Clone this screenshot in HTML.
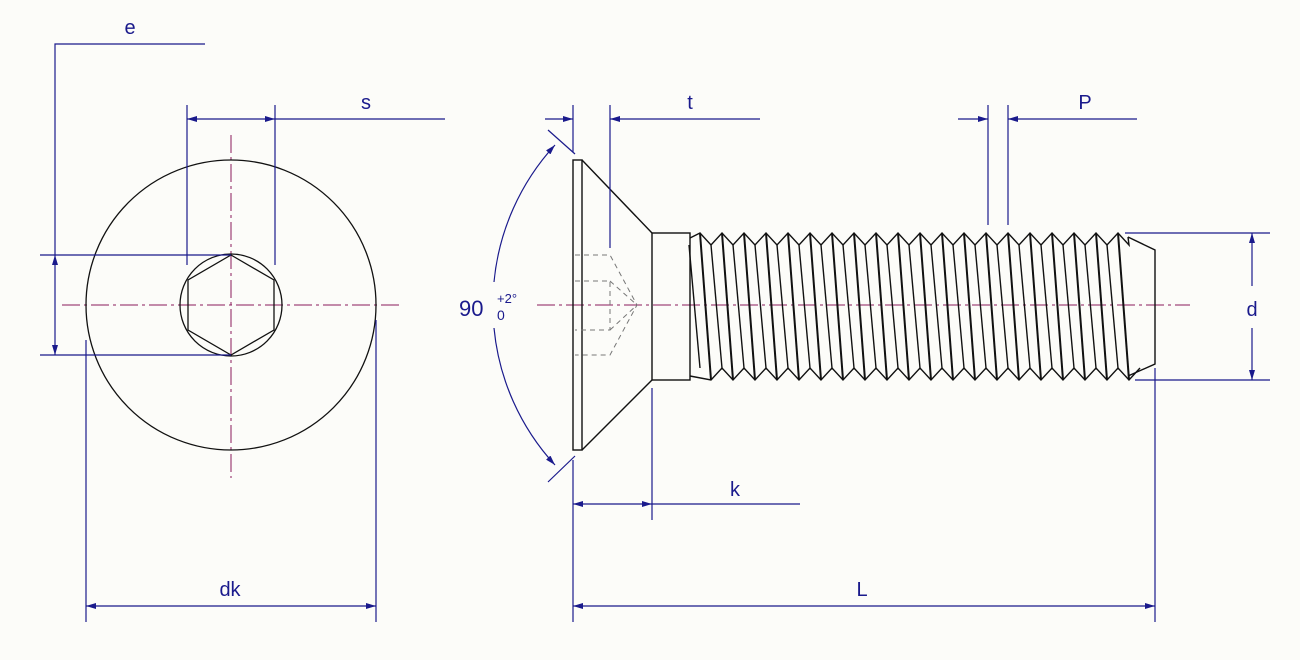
<!DOCTYPE html>
<html><head><meta charset="utf-8"><style>
html,body{margin:0;padding:0;background:#fcfcf9;}
svg{display:block}
text{font-family:"Liberation Sans",sans-serif;fill:#1a1a8c}
</style></head><body>
<svg id="s" width="1300" height="660" viewBox="0 0 1300 660" xmlns="http://www.w3.org/2000/svg">
<defs>
<marker id="a" viewBox="0 0 10 6" refX="10" refY="3" markerWidth="10" markerHeight="6" orient="auto-start-reverse" markerUnits="userSpaceOnUse"><path d="M0,0 L10,3 L0,6z" fill="#1a1a8c"/></marker>
</defs>
<g stroke="#8a1a5a" stroke-width="1" stroke-dasharray="18,4,3,4" fill="none">
<line x1="62" y1="305" x2="402" y2="305"/>
<line x1="231" y1="135" x2="231" y2="478"/>
<line x1="537" y1="305" x2="1190" y2="305"/>
</g>
<g stroke="#111" stroke-width="1.3" fill="none">
<circle cx="231" cy="305" r="145"/>
<circle cx="231" cy="305" r="51"/>
<polygon points="231,255 274,280 274,330 231,355 188,330 188,280"/>
</g>
<g stroke="#1a1a8c" stroke-width="1.2" fill="none">
<polyline points="205,44 55,44 55,255"/>
<line x1="40" y1="255" x2="231" y2="255"/>
<line x1="40" y1="355" x2="231" y2="355"/>
<line x1="55" y1="255" x2="55" y2="355" marker-start="url(#a)" marker-end="url(#a)"/>
<line x1="187" y1="105" x2="187" y2="265"/>
<line x1="275" y1="105" x2="275" y2="265"/>
<line x1="187" y1="119" x2="275" y2="119" marker-start="url(#a)" marker-end="url(#a)"/>
<line x1="275" y1="119" x2="445" y2="119"/>
<line x1="86" y1="340" x2="86" y2="622"/>
<line x1="376" y1="320" x2="376" y2="622"/>
<line x1="86" y1="606" x2="376" y2="606" marker-start="url(#a)" marker-end="url(#a)"/>
</g>
<text x="130" y="34" font-size="20" text-anchor="middle">e</text>
<text x="366" y="109" font-size="20" text-anchor="middle">s</text>
<text x="230" y="596" font-size="20" text-anchor="middle">dk</text>
<g stroke="#111" stroke-width="1.4" fill="none">
<rect x="573" y="160" width="9" height="290"/>
<line x1="582" y1="160" x2="652" y2="233"/>
<line x1="582" y1="450" x2="652" y2="380"/>
<rect x="652" y="233" width="38" height="147"/>
<g id="th"></g>
<polyline points="1128,237 1155,250 1155,364 1128,376"/>
</g>
<g stroke="#777" stroke-width="1" stroke-dasharray="5,4" fill="none">
<polyline points="575,255 610,255 637,305 610,355 575,355"/>
<polyline points="575,281 610,281 610,330 575,330"/>
<line x1="610" y1="281" x2="637" y2="305"/><line x1="610" y1="330" x2="637" y2="305"/>
</g>
<g stroke="#1a1a8c" stroke-width="1.2" fill="none">
<line x1="573" y1="105" x2="573" y2="152"/>
<line x1="573" y1="460" x2="573" y2="622"/>
<line x1="545" y1="119" x2="573" y2="119" marker-end="url(#a)"/>
<line x1="610" y1="105" x2="610" y2="248"/>
<line x1="760" y1="119" x2="610" y2="119" marker-end="url(#a)"/>
<line x1="988" y1="105" x2="988" y2="225"/>
<line x1="1008" y1="105" x2="1008" y2="225"/>
<line x1="958" y1="119" x2="988" y2="119" marker-end="url(#a)"/>
<line x1="1137" y1="119" x2="1008" y2="119" marker-end="url(#a)"/>
<line x1="1125" y1="233" x2="1270" y2="233"/>
<line x1="1135" y1="380" x2="1270" y2="380"/>
<line x1="1252" y1="286" x2="1252" y2="233" marker-end="url(#a)"/>
<line x1="1252" y1="328" x2="1252" y2="380" marker-end="url(#a)"/>
<line x1="652" y1="388" x2="652" y2="520"/>
<line x1="573" y1="504" x2="652" y2="504" marker-start="url(#a)" marker-end="url(#a)"/>
<line x1="652" y1="504" x2="800" y2="504"/>
<line x1="1155" y1="368" x2="1155" y2="622"/>
<line x1="573" y1="606" x2="1155" y2="606" marker-start="url(#a)" marker-end="url(#a)"/>
<path d="M555,145 A235,235 0 0 0 494,282" marker-start="url(#a)"/>
<path d="M555,465 A235,235 0 0 1 494,328" marker-start="url(#a)"/>
<line x1="548" y1="130" x2="575" y2="154"/>
<line x1="548" y1="482" x2="575" y2="456"/>
</g>
<text x="690" y="109" font-size="20" text-anchor="middle">t</text>
<text x="1085" y="109" font-size="20" text-anchor="middle">P</text>
<text x="1252" y="316" font-size="20" text-anchor="middle">d</text>
<text x="735" y="496" font-size="20" text-anchor="middle">k</text>
<text x="862" y="596" font-size="20" text-anchor="middle">L</text>
<text x="459" y="316" font-size="22">90</text>
<text x="497" y="303" font-size="13">+2°</text>
<text x="497" y="320" font-size="14">0</text>
</svg>
<script>
(function(){
var g=document.getElementById('th'),h='',tp='M690,238',bt='M690,376';
for(var i=0;i<20;i++){var x=700+22*i;
tp+=' L'+x+',233 L'+(x+11)+',245';bt+=' L'+(x+11)+',380 L'+(x+22)+',368';
h+='<line x1="'+x+'" y1="233" x2="'+(x+11)+'" y2="380" stroke-width="2"/>';
h+='<line x1="'+(x-11)+'" y1="245" x2="'+x+'" y2="368"/>';}
tp+=' L1128,237';
g.innerHTML='<path d="'+tp+'"/><path d="'+bt+'"/>'+h;
})();
</script>
</body></html>
